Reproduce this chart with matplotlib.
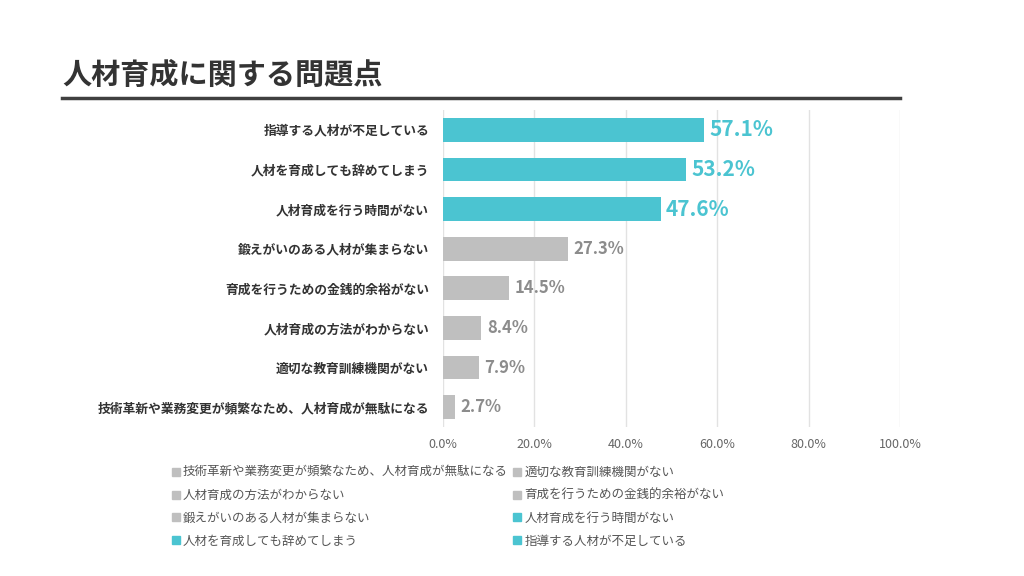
import matplotlib.pyplot as plt
from matplotlib.lines import Line2D

plt.rcParams['font.family'] = ['Noto Sans CJK JP', 'DejaVu Sans']

# data (top to bottom)
labels = ['指導する人材が不足している', '人材を育成しても辞めてしまう', '人材育成を行う時間がない',
          '鍛えがいのある人材が集まらない', '育成を行うための金銭的余裕がない', '人材育成の方法がわからない',
          '適切な教育訓練機関がない', '技術革新や業務変更が頻繁なため、人材育成が無駄になる']
values = [57.1, 53.2, 47.6, 27.3, 14.5, 8.4, 7.9, 2.7]
highlight = [True, True, True, False, False, False, False, False]
xticks = [0, 20, 40, 60, 80, 100]

teal = '#4bc4d1'
gray = '#bfbfbf'
gray_txt = '#8c8c8c'

fig = plt.figure(figsize=(10.24, 5.76), dpi=100)
ax = fig.add_axes([443/1024, 1-427/576, (900-443)/1024, (427-110)/576])

ypos = list(range(len(labels)))
colors = [teal if h else gray for h in highlight]
ax.barh(ypos, values, height=0.6, color=colors, zorder=3)
ax.set_ylim(len(labels)-0.5, -0.5)
ax.set_xlim(0, 100)
ax.set_xticks(xticks)
ax.set_xticklabels([f'{t:.1f}%' for t in xticks], color='#666666', fontsize=9)
ax.set_yticks(ypos)
ax.set_yticklabels(labels, fontsize=9.2, fontweight='bold', color='#333333')
ax.tick_params(axis='both', length=0, pad=10)
ax.tick_params(axis='x', pad=8)
ax.grid(axis='x', color='#e2e2e2', linewidth=1, zorder=0)
for s in ax.spines.values():
    s.set_visible(False)

for y, v, h in zip(ypos, values, highlight):
    if h:
        ax.text(v + 1.2, y, f'{v:.1f}%', va='center', ha='left', fontsize=15,
                fontweight='bold', color=teal)
    else:
        ax.text(v + 1.2, y, f'{v:.1f}%', va='center', ha='left', fontsize=12,
                fontweight='bold', color=gray_txt)

# title and underline
fig.text(62/1024, 1-75/576, '人材育成に関する問題点', fontsize=21, fontweight='bold',
         color='#333333', va='center', ha='left')
fig.add_artist(Line2D([62/1024, 900/1024], [1-98/576, 1-98/576], color='#404040', linewidth=2.5))

# legend (bottom-to-top order, filled row by row)
handles = []
for lab, h in zip(labels[::-1], highlight[::-1]):
    handles.append(Line2D([], [], marker='s', linestyle='none', markersize=6,
                          color=teal if h else gray, label=lab))
handles = handles[0::2] + handles[1::2]
leg = fig.legend(handles=handles, ncol=2, loc='upper left', bbox_to_anchor=(158/1024, 1-455/576),
                 frameon=False, fontsize=9, handletextpad=0.1, columnspacing=0.2,
                 labelspacing=0.78, handlelength=1.0)
for t in leg.get_texts():
    t.set_color('#555555')

fig.savefig('out.png', dpi=100)
